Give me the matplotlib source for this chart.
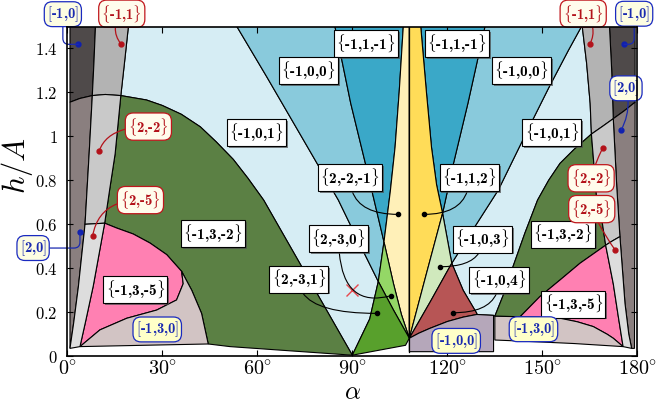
import matplotlib
matplotlib.use("Agg")
import matplotlib.pyplot as plt
from matplotlib.patches import Polygon
from matplotlib import patheffects as pe

plt.rcParams['mathtext.fontset'] = 'cm'

# ---- region boundaries, (alpha [deg], h/A) ----
# left gray strips
b1_top = [(8.9, 1.5), (8.4, 1.33), (7.9, 1.185)]
b1_low = [(7.9, 1.185), (6.9, 0.92), (5.6, 0.60)]
b1_bot = [(5.6, 0.60), (3.5, 0.316), (2.0, 0.15), (0.85, 0.036)]
b2_top = [(19.3, 1.5), (18.1, 1.34), (16.9, 1.185)]
b2_mid = [(16.9, 1.185), (15.1, 0.92), (13.4, 0.76), (11.8, 0.605)]
b2_bot = [(11.8, 0.605), (8.2, 0.32), (5.8, 0.16), (4.0, 0.044)]
arc_strip = [(0.85, 1.155), (4.0, 1.172), (7.9, 1.185)]
arc_gray = [(7.9, 1.185), (12.0, 1.19), (16.9, 1.185)]
arc_green = [(16.9, 1.185), (25, 1.165), (30, 1.14), (36, 1.10), (42, 1.043),
             (47, 0.975), (52.4, 0.895), (57, 0.81), (62, 0.71), (90, 0.005)]
cut_left = [(5.6, 0.60), (11.8, 0.605)]
pink_top = [(11.8, 0.605), (15.6, 0.583), (20.8, 0.556), (26.1, 0.515),
            (31.4, 0.462), (36.1, 0.386)]
pink_bot = [(4.0, 0.044), (10.3, 0.12), (18.8, 0.173), (28.2, 0.21),
            (34.5, 0.256), (36.6, 0.33), (36.1, 0.386)]
arc_low = [(36.1, 0.386), (39.3, 0.30), (42.4, 0.195), (44.5, 0.056)]
base_strip = [(0.85, 0.036), (4.0, 0.044)]
base_mid = [(4.0, 0.044), (24, 0.05), (44.5, 0.056)]
base_green = [(44.5, 0.056), (51.4, 0.044), (90, 0.005)]

# centre wedges
c1_up = [(53.5, 1.5), (63, 1.27), (73.5, 1.01), (85.6, 0.71), (92, 0.52), (98.2, 0.34)]
c1_lo = [(98.2, 0.34), (103, 0.21), (108, 0.082)]
d_up = [(84.5, 1.5), (89.5, 1.15), (94.5, 0.855), (100, 0.52)]
d_lo = [(100, 0.52), (103, 0.33), (105.5, 0.19), (108, 0.082)]
e_up = [(106.1, 1.5), (104.8, 1.2), (103.5, 0.95), (102, 0.75), (100, 0.52)]
e_mid = [(100, 0.52), (98.2, 0.34)]
e_lo = [(98.2, 0.34), (95.5, 0.17), (90, 0.005)]
base_centre = [(90, 0.005), (106.8, 0.05), (108, 0.082)]

e2_up = [(111.6, 1.5), (113.4, 1.2), (115, 0.95), (116.6, 0.78), (118.5, 0.65)]
e2_mid = [(118.5, 0.65), (121.4, 0.423)]
e2_lo = [(121.4, 0.423), (125, 0.3), (129.3, 0.195)]
d2_up = [(131.9, 1.5), (126.5, 1.15), (122, 0.88), (118.5, 0.65)]
d2_lo = [(118.5, 0.65), (113.3, 0.37), (108, 0.082)]
c2_up = [(162.4, 1.5), (158.2, 1.39), (152, 1.22), (146.1, 1.05), (136.1, 0.756),
         (128.5, 0.585), (121.4, 0.423)]
c2_lo = [(121.4, 0.423), (114.7, 0.25), (108, 0.082)]
lav_top = [(108, 0.082), (111, 0.105), (114.5, 0.127), (120, 0.158), (125, 0.178),
           (129.3, 0.19)]
lav_end = [(129.3, 0.19), (134.6, 0.186)]
lav_foot = [(134.6, 0.021), (108, 0.021)]

# right gray strips
b3_top = [(171.2, 1.5), (171.9, 1.30), (172.4, 1.08)]
b3_low = [(172.4, 1.08), (173.5, 0.77), (174.5, 0.544)]
b3_bot = [(174.5, 0.544), (176.1, 0.24), (177.3, 0.10), (178.2, 0.036)]
b4_top = [(162.6, 1.5), (164, 1.33), (165.1, 1.15), (165.5, 1.01)]
b4_mid = [(165.5, 1.01), (167.2, 0.71), (168.8, 0.62), (170, 0.505)]
b4_bot = [(170, 0.505), (172.4, 0.33), (174, 0.18), (175.5, 0.044)]
arc2_strip = [(179.3, 1.155), (175.8, 1.115), (172.4, 1.08)]
arc2_gray = [(172.4, 1.08), (169, 1.045), (165.5, 1.01)]
arc2_green = [(165.5, 1.01), (160, 0.94), (155.6, 0.877), (152, 0.80), (148.5, 0.71),
              (144.5, 0.56), (140.8, 0.41), (138, 0.29), (135, 0.182)]
cut_right = [(170, 0.505), (172.2, 0.525), (174.5, 0.544)]
pink2_top = [(170, 0.505), (161.9, 0.423), (155.6, 0.347), (149.2, 0.271), (143, 0.18)]
pink2_bot = [(143, 0.18), (149, 0.178), (155.6, 0.173), (161, 0.157), (166.1, 0.135),
             (170.5, 0.1), (172.4, 0.082), (175.5, 0.044)]
base_right = [(175.5, 0.044), (160, 0.058), (145, 0.068), (135, 0.074)]

R = lambda c: c[::-1]

regions = [
    # left
    ('#d6edf4', b2_top + arc_green + R(e_lo) + R(c1_up)),
    ('#89cadc', c1_up + R(e_mid) + R(d_up)),
    ('#3aa8c8', d_up + R(e_up)),
    ('#fff0b8', e_up + d_lo + [(108, 1.5)]),
    ('#94d766', d_lo + R(c1_lo) + R(e_mid)),
    ('#58a02c', c1_lo + R(base_centre) + R(e_lo)),
    ('#5b8044', arc_green + R(base_green) + R(arc_low) + R(pink_top) + R(b2_mid)),
    ('#ff80b2', pink_top + R(pink_bot) + R(b2_bot)),
    ('#d2c4c4', pink_bot + arc_low + R(base_mid)),
    ('#4f4a4a', [(0.85, 1.5)] + b1_top + R(arc_strip)),
    ('#8a7f7f', arc_strip + b1_low + b1_bot),
    ('#b3b3b3', [(8.9, 1.5)] + b2_top + R(arc_gray) + R(b1_top)),
    ('#c9c9c9', arc_gray + b2_mid + R(cut_left) + R(b1_low)),
    ('#dddddd', cut_left + b2_bot + R(base_strip) + R(b1_bot)),
    # right
    ('#d6edf4', b4_top + arc2_green + R(lav_end) + R(e2_lo) + R(c2_up)),
    ('#89cadc', d2_up + e2_mid + R(c2_up)),
    ('#3aa8c8', e2_up + R(d2_up)),
    ('#ffdc58', [(108, 1.5)] + e2_up + d2_lo),
    ('#d0e9bd', d2_lo + R(c2_lo) + R(e2_mid)),
    ('#b75555', c2_lo + lav_top + R(e2_lo)),
    ('#b5a7ba', lav_top + lav_end + lav_foot),
    ('#5b8044', arc2_green + R(pink2_top) + R(b4_mid)),
    ('#ff80b2', pink2_top + pink2_bot + R(b4_bot)),
    ('#d2c4c4', [(135, 0.074)] + [(135, 0.182)] + pink2_bot + base_right),
    ('#4f4a4a', b3_top + R(arc2_strip) + [(179.3, 1.5)]),
    ('#8a7f7f', arc2_strip + b3_low + b3_bot + [(179.1, 0.036)]),
    ('#b3b3b3', b4_top + R(arc2_gray) + R(b3_top)),
    ('#c9c9c9', arc2_gray + b4_mid + cut_right + R(b3_low)),
    ('#dddddd', cut_right + b3_bot + [(175.5, 0.044)] + R(b4_bot)),
]

# ---- labels ----
box_text = ['{-1,1,-1}', '{-1,1,-1}', '{-1,0,0}', '{-1,0,0}', '{-1,0,1}', '{-1,0,1}',
            '{-1,3,-2}', '{-1,3,-2}', '{-1,3,-5}', '{-1,3,-5}']
box_x = [94.3, 123.0, 76.2, 143.5, 59.7, 153.0, 46.1, 156.5, 21.5, 159.8]
box_y = [1.422, 1.422, 1.298, 1.298, 1.016, 1.016, 0.557, 0.555, 0.303, 0.237]

lead_text = ['{2,-2,-1}', '{-1,1,2}', '{2,-3,0}', '{-1,0,3}', '{2,-3,1}', '{-1,0,4}']
lead_x = [89.3, 126.9, 85.7, 131.1, 73.1, 136.3]
lead_y = [0.813, 0.813, 0.535, 0.532, 0.35, 0.347]
lead_px = [104.5, 112.6, 102.1, 117.7, 97.7, 121.9]
lead_py = [0.645, 0.645, 0.275, 0.407, 0.195, 0.198]
lead_angB = [0, 0, 15, 0, 0, 0]

red_text = ['{-1,1}', '{2,-2}', '{2,-5}', '{-1,1}', '{2,-2}', '{2,-5}']
red_x = [17.2, 25.6, 23.1, 162.9, 165.4, 165.6]
red_y = [1.557, 1.044, 0.71, 1.557, 0.809, 0.669]
red_px = [17.0, 10.1, 8.0, 165.0, 169.0, 173.0]
red_py = [1.418, 0.935, 0.547, 1.418, 0.945, 0.483]
red_conn = ['arc3,rad=0.4', 'angle3,angleA=0,angleB=70', 'angle3,angleA=0,angleB=80',
            'arc3,rad=-0.4', 'arc3,rad=-0.05', 'arc3,rad=0.05']

blue_text = ['[-1,0]', '[2,0]', '[-1,0]', '[2,0]']
blue_x = [-1.4, -10.8, 179.0, 176.4]
blue_y = [1.555, 0.492, 1.557, 1.218]
blue_px = [3.5, 4.0, 175.8, 174.9]
blue_py = [1.418, 0.564, 1.418, 1.029]
blue_conn = ['angle,angleA=90,angleB=0,rad=6', 'angle,angleA=0,angleB=90,rad=6',
             'angle,angleA=90,angleB=0,rad=6', 'arc3,rad=-0.2']

tag_text = ['[-1,3,0]', '[-1,3,0]', '[-1,0,0]']
tag_x = [28.4, 147.2, 122.8]
tag_y = [0.122, 0.123, 0.07]

cross = (89.8, 0.30)


def tex(s):
    # braces/brackets from mathtext, digits in bold Computer Modern
    if s[0] == '{':
        return r'$\{$' + s[1:-1] + r'$\}$'
    return '$[$' + s[1:-1] + '$]$'


fig = plt.figure(figsize=(6.63, 4.03), dpi=100)
ax = fig.add_axes([0.1015, 0.1159, 0.8598, 0.8159])

for colour, pts in regions:
    ax.add_patch(Polygon(pts, closed=True, fc=colour, ec='black', lw=0.8, zorder=1))
ax.plot([108, 108], [0.021, 1.5], color='black', lw=0.9, zorder=2)
ax.plot(*cross, marker='x', color='#e8474c', ms=8, mew=1.0, zorder=3)

shadow = [pe.withSimplePatchShadow(offset=(1.3, -1.3), shadow_rgbFace='0.3', alpha=0.7)]
black_box = dict(boxstyle='square,pad=0.15', fc='white', ec='black', lw=0.8)

for s, x, y in zip(box_text, box_x, box_y):
    t = ax.text(x, y, tex(s), family='cmb10', fontsize=11, ha='center', va='center',
                bbox=black_box, zorder=6)
    t.get_bbox_patch().set_path_effects(shadow)

for s, x, y, px, py, ab in zip(lead_text, lead_x, lead_y, lead_px, lead_py, lead_angB):
    a = ax.annotate(tex(s), xy=(px, py), xytext=(x, y), family='cmb10', fontsize=11,
                    ha='center', va='center', bbox=black_box, zorder=6,
                    arrowprops=dict(arrowstyle='-', color='black', lw=0.8, shrinkA=0,
                                    shrinkB=0,
                                    connectionstyle='angle3,angleA=90,angleB=%d' % ab))
    a.get_bbox_patch().set_path_effects(shadow)
    ax.plot(px, py, 'o', color='black', ms=3, zorder=5)

red_box = dict(boxstyle='round,pad=0.18,rounding_size=0.55', fc='#fffcec',
               ec='#c0161c', lw=0.9)
for s, x, y, px, py, cs in zip(red_text, red_x, red_y, red_px, red_py, red_conn):
    ax.annotate(tex(s), xy=(px, py), xytext=(x, y), family='cmb10', fontsize=10.5,
                color='#b3121a', ha='center', va='center', bbox=red_box, zorder=6,
                annotation_clip=False,
                arrowprops=dict(arrowstyle='-', color='#b3121a', lw=0.9, shrinkA=0,
                                shrinkB=0, connectionstyle=cs))
    ax.plot(px, py, 'o', color='#b3121a', ms=3.5, zorder=5)

blue_box = dict(boxstyle='round,pad=0.18,rounding_size=0.55', fc='#fdfde2',
                ec='#1a2ac0', lw=0.9)
for s, x, y, px, py, cs in zip(blue_text, blue_x, blue_y, blue_px, blue_py, blue_conn):
    ax.annotate(tex(s), xy=(px, py), xytext=(x, y), family='cmb10', fontsize=10.5,
                color='#1a2ab0', ha='center', va='center', bbox=blue_box, zorder=6,
                annotation_clip=False,
                arrowprops=dict(arrowstyle='-', color='#1a2ab0', lw=0.9, shrinkA=0,
                                shrinkB=0, connectionstyle=cs))
    ax.plot(px, py, 'o', color='#1020b0', ms=3.5, zorder=5)

tag_box = dict(boxstyle='round,pad=0.18,rounding_size=0.55', fc='#ffffc8',
               ec='#1a2ac0', lw=0.9)
for s, x, y in zip(tag_text, tag_x, tag_y):
    ax.text(x, y, tex(s), family='cmb10', fontsize=10.5, color='#1a2ab0',
            ha='center', va='center', bbox=tag_box, zorder=6)

ax.set_xlim(0, 180)
ax.set_ylim(0, 1.4945)
xt = [0, 30, 60, 90, 120, 150, 180]
yt = [0, 0.2, 0.4, 0.6, 0.8, 1.0, 1.2, 1.4]
ax.set_xticks(xt)
ax.set_xticklabels([r'$%d\!^\circ$' % v for v in xt], fontsize=14.5)
ax.set_yticks(yt)
ax.set_yticklabels([r'$%g$' % v for v in yt], fontsize=12)
ax.tick_params(direction='in', top=True, right=True, length=4, width=0.8)
ax.tick_params(axis='x', pad=2)
ax.tick_params(axis='y', pad=7)
for sp in ax.spines.values():
    sp.set_linewidth(1.2)
    sp.set_zorder(7)

fig.text(0.531, 0.028, r'$\alpha$', fontsize=18, ha='center', va='center')
fig.text(0.026, 0.59, r'$h/A$', fontsize=22, ha='center', va='center', rotation=90)

fig.savefig('out.png', dpi=100)
